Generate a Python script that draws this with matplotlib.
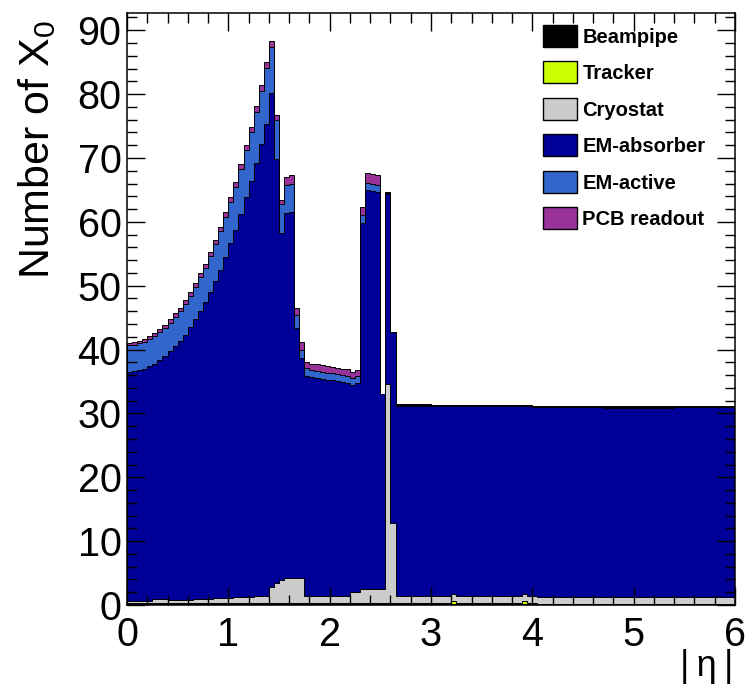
import numpy as np
import matplotlib
matplotlib.use('Agg')
import matplotlib.pyplot as plt
from matplotlib.patches import Patch
from matplotlib.ticker import MultipleLocator

# |eta| binning: 120 bins of 0.05
eta_edges = np.linspace(0.0, 6.0, 121)

# material per bin, in X0
beampipe = [
    0.12, 0.12, 0.12, 0.12, 0.12, 0.12, 0.12, 0.12, 0.12, 0.12,
    0.12, 0.12, 0.12, 0.12, 0.12, 0.12, 0.12, 0.12, 0.12, 0.12,
    0.12, 0.12, 0.12, 0.12, 0.12, 0.12, 0.12, 0.12, 0.12, 0.12,
    0.12, 0.12, 0.12, 0.12, 0.12, 0.12, 0.12, 0.12, 0.12, 0.12,
    0.12, 0.12, 0.12, 0.12, 0.12, 0.12, 0.12, 0.12, 0.12, 0.12,
    0.12, 0.12, 0.12, 0.12, 0.12, 0.12, 0.12, 0.12, 0.12, 0.12,
    0.12, 0.12, 0.12, 0.12, 0.12, 0.12, 0.12, 0.12, 0.12, 0.12,
    0.12, 0.12, 0.12, 0.12, 0.12, 0.12, 0.12, 0.12, 0.12, 0.12,
    0.12, 0.12, 0.12, 0.12, 0.12, 0.12, 0.12, 0.12, 0.12, 0.12,
    0.12, 0.12, 0.12, 0.12, 0.12, 0.12, 0.12, 0.12, 0.12, 0.12,
    0.12, 0.12, 0.12, 0.12, 0.12, 0.12, 0.12, 0.12, 0.12, 0.12,
    0.12, 0.12, 0.12, 0.12, 0.12, 0.12, 0.12, 0.12, 0.12, 0.12,
]
tracker = [
    0.15, 0.15, 0.15, 0.15, 0.15, 0.15, 0.15, 0.15, 0.15, 0.15,
    0.15, 0.15, 0.15, 0.15, 0.15, 0.15, 0.15, 0.15, 0.15, 0.15,
    0.15, 0.15, 0.15, 0.15, 0.15, 0.15, 0.15, 0.15, 0.15, 0.15,
    0.15, 0.15, 0.15, 0.15, 0.15, 0.15, 0.15, 0.15, 0.15, 0.15,
    0.15, 0.15, 0.15, 0.15, 0.15, 0.15, 0.15, 0.15, 0.15, 0.15,
    0.15, 0.15, 0.15, 0.15, 0.15, 0.15, 0.15, 0.15, 0.15, 0.15,
    0.15, 0.15, 0.15, 0.15, 0.45, 0.15, 0.15, 0.15, 0.15, 0.15,
    0.15, 0.15, 0.15, 0.15, 0.15, 0.15, 0.15, 0.15, 0.45, 0.15,
    0.15, 0.0, 0.0, 0.0, 0.0, 0.0, 0.0, 0.0, 0.0, 0.0,
    0.0, 0.0, 0.0, 0.0, 0.0, 0.0, 0.0, 0.0, 0.0, 0.0,
    0.0, 0.0, 0.0, 0.0, 0.0, 0.0, 0.0, 0.0, 0.0, 0.0,
    0.0, 0.0, 0.0, 0.0, 0.0, 0.0, 0.0, 0.0, 0.0, 0.0,
]
cryostat = [
    0.33, 0.33, 0.33, 0.33, 0.33, 0.6, 0.6, 0.6, 0.5, 0.5,
    0.5, 0.5, 0.5, 0.7, 0.7, 0.7, 0.7, 0.9, 0.9, 0.9,
    0.9, 1.0, 1.0, 1.0, 1.0, 1.1, 1.1, 1.1, 2.5, 3.2,
    3.6, 4.0, 4.0, 4.0, 4.0, 1.1, 1.1, 1.1, 1.1, 1.1,
    1.1, 1.1, 1.1, 1.1, 1.7, 1.8, 2.3, 2.3, 2.3, 2.3,
    2.3, 34.3, 12.5, 1.1, 1.1, 1.1, 1.1, 1.1, 1.1, 1.1,
    1.1, 1.1, 1.1, 1.1, 1.1, 1.1, 1.1, 1.1, 1.1, 1.1,
    1.1, 1.1, 1.1, 1.1, 1.1, 1.1, 1.1, 1.1, 1.1, 1.1,
    1.1, 1.1, 1.1, 1.1, 1.1, 1.1, 1.1, 1.1, 1.1, 1.1,
    1.1, 1.1, 1.1, 1.1, 1.1, 1.1, 1.1, 1.1, 1.1, 1.1,
    1.1, 1.1, 1.1, 1.1, 1.1, 1.1, 1.1, 1.1, 1.1, 1.1,
    1.1, 1.1, 1.1, 1.1, 1.1, 1.1, 1.1, 1.1, 1.1, 1.1,
]
em_absorber = [
    35.90, 35.99, 36.17, 36.43, 36.78, 36.90, 37.45, 38.09, 38.93, 39.77,
    40.50, 41.54, 42.69, 43.75, 45.11, 46.40, 48.00, 49.52, 51.35, 53.35,
    55.45, 57.40, 59.99, 62.57, 65.13, 67.86, 70.76, 73.95, 77.33, 66.33,
    54.33, 57.13, 57.33, 39.03, 34.33, 34.43, 34.33, 34.23, 34.08, 33.93,
    33.83, 33.68, 33.53, 33.43, 32.43, 32.63, 57.23, 62.43, 62.33, 62.13,
    30.40, 29.83, 29.93, 29.83, 29.83, 29.83, 29.83, 29.83, 29.83, 29.83,
    29.73, 29.73, 29.73, 29.73, 29.43, 29.73, 29.73, 29.73, 29.73, 29.73,
    29.73, 29.73, 29.73, 29.73, 29.73, 29.73, 29.73, 29.73, 29.43, 29.73,
    29.63, 29.78, 29.78, 29.78, 29.78, 29.78, 29.78, 29.78, 29.78, 29.78,
    29.78, 29.78, 29.78, 29.78, 29.68, 29.68, 29.68, 29.68, 29.68, 29.68,
    29.68, 29.68, 29.68, 29.68, 29.68, 29.68, 29.68, 29.68, 29.78, 29.78,
    29.78, 29.78, 29.78, 29.78, 29.78, 29.78, 29.78, 29.78, 29.78, 29.78,
]
em_active = [
    4.15, 4.16, 4.18, 4.21, 4.26, 4.31, 4.37, 4.45, 4.53, 4.63,
    4.74, 4.86, 4.99, 5.13, 5.29, 5.46, 5.64, 5.84, 6.06, 6.28,
    6.53, 6.79, 7.07, 7.36, 7.67, 8.00, 8.36, 8.73, 7.20, 6.20,
    4.60, 4.30, 4.40, 2.10, 1.40, 1.30, 1.10, 1.10, 1.10, 1.10,
    1.10, 1.10, 1.10, 1.10, 1.10, 1.10, 1.20, 1.10, 1.10, 1.10,
    0.00, 0.10, 0.00, 0.05, 0.05, 0.05, 0.05, 0.05, 0.05, 0.05,
    0.05, 0.05, 0.05, 0.05, 0.05, 0.05, 0.05, 0.05, 0.05, 0.05,
    0.05, 0.05, 0.05, 0.05, 0.05, 0.05, 0.05, 0.05, 0.05, 0.05,
    0.05, 0.05, 0.05, 0.05, 0.05, 0.05, 0.05, 0.05, 0.05, 0.05,
    0.05, 0.05, 0.05, 0.05, 0.05, 0.05, 0.05, 0.05, 0.05, 0.05,
    0.05, 0.05, 0.05, 0.05, 0.05, 0.05, 0.05, 0.05, 0.05, 0.05,
    0.05, 0.05, 0.05, 0.05, 0.05, 0.05, 0.05, 0.05, 0.05, 0.05,
]
pcb_readout = [
    0.45, 0.45, 0.45, 0.46, 0.46, 0.47, 0.47, 0.48, 0.49, 0.50,
    0.51, 0.53, 0.54, 0.56, 0.57, 0.59, 0.61, 0.63, 0.66, 0.68,
    0.71, 0.74, 0.77, 0.80, 0.83, 0.87, 0.91, 0.95, 1.00, 0.80,
    0.60, 1.30, 1.30, 1.10, 1.20, 1.00, 1.00, 1.00, 1.00, 1.00,
    1.00, 1.00, 1.00, 1.00, 1.00, 1.00, 1.30, 1.50, 1.50, 1.50,
    0.00, 0.20, 0.10, 0.15, 0.15, 0.15, 0.15, 0.15, 0.15, 0.15,
    0.15, 0.15, 0.15, 0.15, 0.15, 0.15, 0.15, 0.15, 0.15, 0.15,
    0.15, 0.15, 0.15, 0.15, 0.15, 0.15, 0.15, 0.15, 0.15, 0.15,
    0.15, 0.15, 0.15, 0.15, 0.15, 0.15, 0.15, 0.15, 0.15, 0.15,
    0.15, 0.15, 0.15, 0.15, 0.15, 0.15, 0.15, 0.15, 0.15, 0.15,
    0.15, 0.15, 0.15, 0.15, 0.15, 0.15, 0.15, 0.15, 0.15, 0.15,
    0.15, 0.15, 0.15, 0.15, 0.15, 0.15, 0.15, 0.15, 0.15, 0.15,
]

labels = ['Beampipe', 'Tracker', 'Cryostat', 'EM-absorber', 'EM-active', 'PCB readout']
colors = ['#000000', '#ccff00', '#cccccc', '#000099', '#3366cc', '#993399']
layers = [beampipe, tracker, cryostat, em_absorber, em_active, pcb_readout]

plt.rcParams['font.family'] = ['Liberation Sans', 'DejaVu Sans']
plt.rcParams['mathtext.fontset'] = 'custom'
plt.rcParams['mathtext.rm'] = 'Liberation Sans'

fig = plt.figure(figsize=(7.45, 6.85), dpi=100)
ax = fig.add_axes([127 / 745, 80 / 685, 608 / 745, 592 / 685])

# THStack style: draw cumulative histograms, biggest first
cum = np.cumsum(np.array(layers), axis=0)
for i in range(len(layers) - 1, -1, -1):
    ax.stairs(cum[i], eta_edges, baseline=0, fill=True,
              facecolor=colors[i], edgecolor='black', linewidth=0.7)

ax.set_xlim(0, 6)
ax.set_ylim(0, 92.7)
ax.xaxis.set_major_locator(MultipleLocator(1))
ax.xaxis.set_minor_locator(MultipleLocator(0.2))
ax.yaxis.set_major_locator(MultipleLocator(10))
ax.yaxis.set_minor_locator(MultipleLocator(2))
ax.tick_params(which='both', direction='in', top=True, right=True, width=1)
ax.tick_params(which='major', length=13, labelsize=28.5)
ax.tick_params(which='minor', length=7)
ax.tick_params(axis='y', pad=4)
ax.tick_params(axis='x', pad=8)
for s in ax.spines.values():
    s.set_linewidth(1.1)

ax.set_ylabel('Number of X$_0$', fontsize=31, loc='top')
ax.yaxis.set_label_coords(-0.113, 0.988)
ax.set_xlabel('|\u2009η\u2009|', fontsize=26, loc='right')
ax.xaxis.set_label_coords(0.998, -0.074)

handles = [Patch(facecolor=c, edgecolor='black', linewidth=1) for c in colors]
ax.legend(handles, labels, loc='upper left', bbox_to_anchor=(543 / 745, 1 - 25 / 685),
          bbox_transform=fig.transFigure, frameon=False, borderpad=0, borderaxespad=0,
          prop={'size': 14.5, 'weight': 'bold'}, handlelength=1.7, handleheight=1.3,
          labelspacing=0.72, handletextpad=0.25)

fig.savefig('out.png', dpi=100)
